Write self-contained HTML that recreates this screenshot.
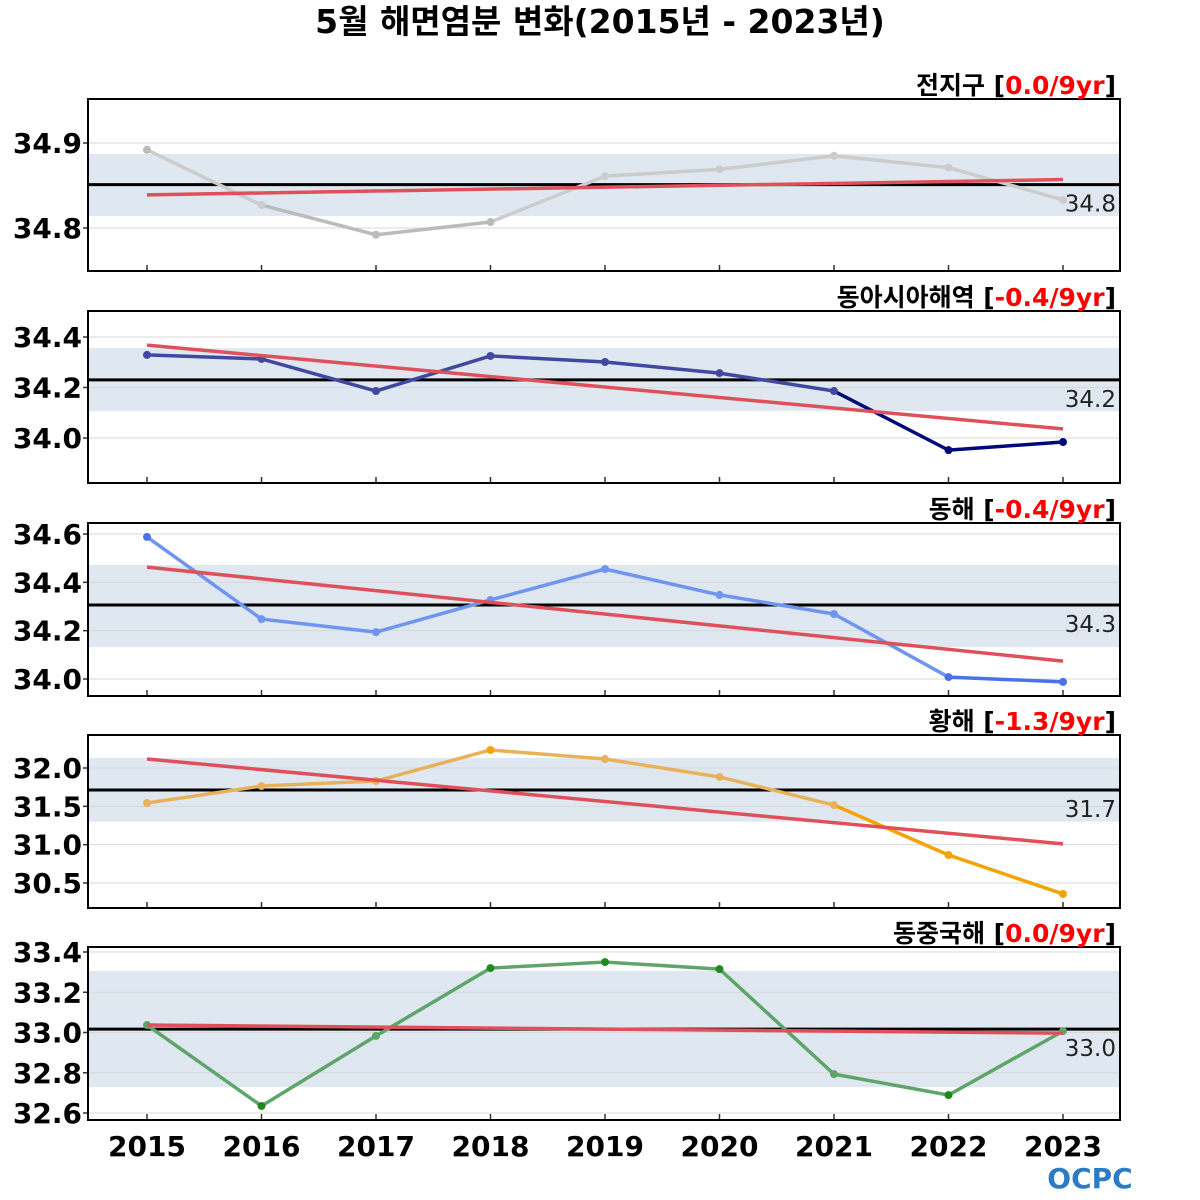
<!DOCTYPE html>
<html><head><meta charset="utf-8">
<style>
html,body{margin:0;padding:0;background:#fff;}
svg{display:block;font-family:"Liberation Sans","Noto Sans CJK KR",sans-serif;}
</style></head>
<body>
<svg id="chart" width="1200" height="1200" viewBox="0 0 1200 1200">
<text x="600" y="33" text-anchor="middle" font-size="33" font-weight="bold" font-family="'DejaVu Sans','Noto Sans CJK KR',sans-serif">5월 해면염분 변화(2015년 - 2023년)</text>
<g id="logo">
<text x="1090" y="1188" text-anchor="middle" font-size="28" font-weight="bold" fill="#2a7cc7" font-family="'DejaVu Sans',sans-serif">OCPC</text>
</g>
</svg>
<script>
const years = [2015,2016,2017,2018,2019,2020,2021,2022,2023];
const titles = ['전지구','동아시아해역','동해','황해','동중국해'];
const trendLabels = ['0.0/9yr','-0.4/9yr','-0.4/9yr','-1.3/9yr','0.0/9yr'];
const meanLabels = ['34.8','34.2','34.3','31.7','33.0'];
const series0 = [34.892,34.827,34.792,34.807,34.861,34.869,34.885,34.871,34.833];
const series1 = [34.329,34.313,34.186,34.325,34.301,34.257,34.186,33.952,33.984];
const series2 = [34.588,34.248,34.194,34.327,34.455,34.348,34.269,34.008,33.988];
const series3 = [31.543,31.765,31.83,32.235,32.117,31.883,31.517,30.865,30.357];
const series4 = [33.037,32.635,32.983,33.320,33.350,33.315,32.793,32.689,33.007];
const means = [34.851,34.230,34.306,31.713,33.017];
const bandLow = [34.814,34.107,34.132,31.30,32.729];
const bandHigh = [34.887,34.356,34.472,32.13,33.306];
const trendStart = [34.839,34.368,34.463,32.117,33.037];
const trendEnd = [34.857,34.036,34.074,31.01,32.997];
const ticks0 = [34.8,34.9];
const ticks1 = [34.0,34.2,34.4];
const ticks2 = [34.0,34.2,34.4,34.6];
const ticks3 = [30.5,31.0,31.5,32.0];
const ticks4 = [32.6,32.8,33.0,33.2,33.4];

const allSeries=[series0,series1,series2,series3,series4];
const allTicks=[ticks0,ticks1,ticks2,ticks3,ticks4];
const layout=[
 {top:99,bot:271,v1:34.9,p1:143,v2:34.8,p2:228},
 {top:311,bot:483,v1:34.4,p1:337,v2:34.0,p2:438},
 {top:523,bot:696,v1:34.6,p1:534,v2:34.0,p2:679},
 {top:735,bot:908,v1:32.0,p1:768,v2:30.5,p2:883},
 {top:947,bot:1120,v1:33.4,p1:952,v2:32.6,p2:1113}];
const colors=[['#cccccc','#bbbbbb'],['#4048a0','#000a78'],['#6f95ee','#4a72e8'],['#e8b25a','#f5a300'],['#5fa56a','#1e8a1e']];
const L=88,R=1120;
const svg=document.getElementById('chart');
const NS='http://www.w3.org/2000/svg';
function xs(i){return 147+(1063-147)*(years[i]-years[0])/(years[years.length-1]-years[0]);}
function mk(tag,attrs,parent){const e=document.createElementNS(NS,tag);for(const k in attrs)e.setAttribute(k,attrs[k]);(parent||svg).appendChild(e);return e;}

layout.forEach((P,pi)=>{
 const ys=v=>P.p1+(v-P.v1)*(P.p2-P.p1)/(P.v2-P.v1);
 const g=mk('g',{});
 
 
 const band=mk('rect',{x:L,y:ys(bandHigh[pi]),width:R-L,height:ys(bandLow[pi])-ys(bandHigh[pi]),fill:'#dfe8f1'},g);
 
 
 allTicks[pi].forEach(t=>{
  const y=ys(t);
  const gl=mk('line',{x1:L,x2:R,y1:y,y2:y,stroke:'#d8d8d8','stroke-width':1},g);
  
  
  mk('line',{x1:L-5,x2:L,y1:y,y2:y,stroke:'#333','stroke-width':1.5},g);
  const tx=mk('text',{x:82,y:y+10,'text-anchor':'end','font-size':28,'font-weight':'bold','font-family':"'DejaVu Sans',sans-serif"},g);
  tx.textContent=t.toFixed(1);
  
  
 });
 const ml=mk('line',{x1:L,x2:R,y1:ys(means[pi]),y2:ys(means[pi]),stroke:'#000','stroke-width':3},g);
 
 
 const d=allSeries[pi];
 for(let i=0;i<d.length-1;i++){
  const below=(d[i]+d[i+1])/2<bandLow[pi];
  const sg=mk('line',{x1:xs(i),y1:ys(d[i]),x2:xs(i+1),y2:ys(d[i+1]),stroke:colors[pi][below?1:0],'stroke-width':3.5,'stroke-linecap':'round'},g);
  
  
 }
 d.forEach((v,i)=>{
  const c=mk('circle',{cx:xs(i),cy:ys(v),r:4,fill:colors[pi][(v<bandLow[pi]||v>bandHigh[pi])?1:0]},g);
  
  
 });
 const tl=mk('line',{x1:xs(0),y1:ys(trendStart[pi]),x2:xs(8),y2:ys(trendEnd[pi]),stroke:'#e0505a','stroke-width':3.5},g);
 
 
 const mt=mk('text',{x:1116,y:ys(means[pi])+27,'text-anchor':'end','font-size':23,fill:'#222','font-family':"'DejaVu Sans',sans-serif"},g);
 mt.textContent=meanLabels[pi];
 
 
 years.forEach((y,i)=>{mk('line',{x1:xs(i),x2:xs(i),y1:P.bot,y2:P.bot-6,stroke:'#333','stroke-width':1.5},g);});
 const fr=mk('rect',{x:L,y:P.top,width:R-L,height:P.bot-P.top,fill:'none',stroke:'#000','stroke-width':2},g);
 
 
 const tt=mk('text',{x:1116,y:P.top-5,'text-anchor':'end','font-size':25,'font-weight':'bold','font-family':"'DejaVu Sans','Noto Sans CJK KR',sans-serif"},g);
 
 
 const s1=mk('tspan',{},tt);s1.textContent=titles[pi]+' [';
 const s2=mk('tspan',{fill:'#ff0000'},tt);s2.textContent=trendLabels[pi];
 const s3=mk('tspan',{},tt);s3.textContent=']';
});
years.forEach((y,i)=>{
 const t=mk('text',{x:xs(i),y:1156,'text-anchor':'middle','font-size':28,'font-weight':'bold','font-family':"'DejaVu Sans',sans-serif"});
 t.textContent=y;
 
 
});
</script>
</body></html>
